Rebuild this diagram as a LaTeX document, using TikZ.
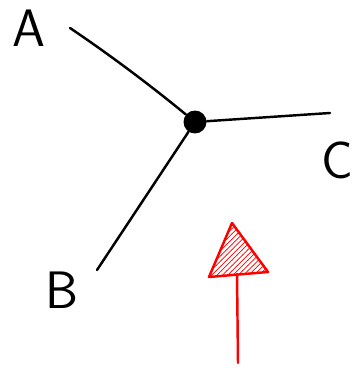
\documentclass[tikz,border=0pt]{standalone}
\usetikzlibrary{patterns, positioning}

\begin{document}
\begin{tikzpicture}[
	  x=0.02cm, y=-0.02cm,
	  letter/.style={font=\sffamily\fontsize{30}{30}\selectfont, inner sep=0pt},
	  hub/.style={circle, fill=black, minimum size=0.46cm, inner sep=0pt},
	  stroke/.style={line width=1.4pt, line cap=round},
	  redline/.style={draw=red, line width=1.4pt, line cap=round, line join=round}
	]
	\useasboundingbox (0,0) rectangle (358,371);

	\node (lblA) [letter] at (29,28) {A};
	\node (lblB) [letter] at (62,290) {B};
	\node (lblC) [letter] at (337,160) {C};

	\node (hub) [hub] at (195,122) {};
	\coordinate (endA) at (70,28);
	\coordinate (endB) at (97,270);
	\coordinate (endC) at (330,113);

	\draw [stroke] (endA) .. controls (110,55) and (150,85) .. (hub);
	\draw [stroke] (hub) -- (endC);
	\draw [stroke] (hub) -- (endB);

	% red arrow
	\coordinate (tail) at (238,363);
	\coordinate (base) at (237,274);
	\draw [redline] (tail) -- (base);
	\draw [redline, pattern=north east lines, pattern color=red]
	  (232,223) -- (209,277) -- (268,272) -- cycle;

	\end{tikzpicture}
\end{document}
